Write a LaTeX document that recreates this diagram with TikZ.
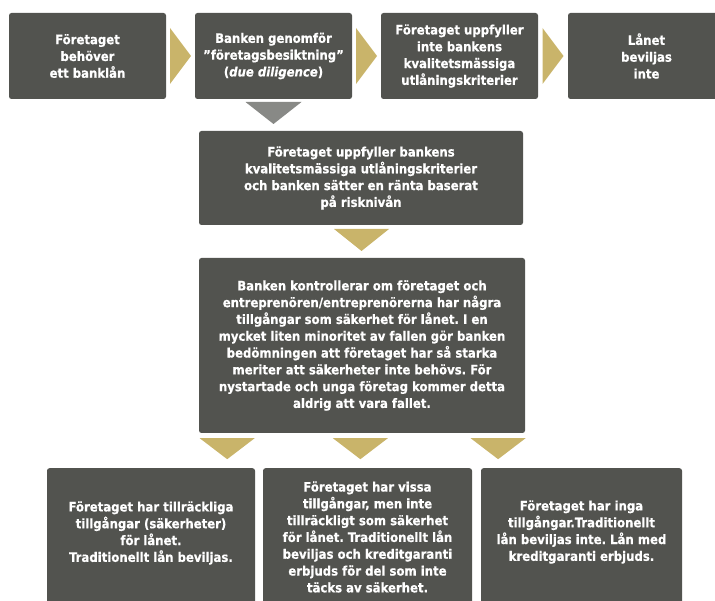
\documentclass[tikz,border=0pt]{standalone}
\usepackage{fontspec}
\setmainfont{DejaVu Sans Condensed}[BoldFeatures={FakeBold=0.6}, BoldItalicFeatures={FakeBold=0.6}]
\usetikzlibrary{calc}
\frenchspacing

\definecolor{rutgra}{RGB}{82,83,79}
\definecolor{guld}{RGB}{201,180,106}
\definecolor{pilgra}{RGB}{136,137,134}

\tikzset{
  ruta/.style={fill=rutgra, rounded corners=2.5pt, inner sep=0pt},
  rutext/.style={text=white, align=center, inner sep=0pt,
    font=\bfseries\fontsize{13}{16.8}\selectfont},
  steg/.style={ruta, rutext, minimum width=157pt, minimum height=86pt},
}

\begin{document}
\begin{tikzpicture}[x=1pt,y=-1pt]
  \useasboundingbox (0,0) rectangle (715,601);

  % Översta raden
  \node[steg] (behov) at (87.5,56) {Företaget\\behöver\\ett banklån};
  \node[steg] (besikt) at (273.5,56) {Banken genomför\\”företagsbesiktning”\\(\textit{due diligence})};
  \node[steg] (ejkrav) at (459.5,56) {Företaget uppfyller\\inte bankens\\kvalitetsmässiga\\utlåningskriterier};
  \node[steg] (avslag) at (646.5,56) {Lånet\\beviljas\\inte};

  % Mittenrutorna
  \node[ruta, rutext, minimum width=324pt, minimum height=94pt] (krav) at (361,178)
    {Företaget uppfyller bankens\\kvalitetsmässiga utlåningskriterier\\och banken sätter en ränta baserat\\på risknivån};
  \node[ruta, rutext, minimum width=326pt, minimum height=175pt] (sakerhet) at (362,345.5)
    {Banken kontrollerar om företaget och\\entreprenören/entreprenörerna har några\\tillgångar som säkerhet för lånet. I en\\mycket liten minoritet av fallen gör banken\\bedömningen att företaget har så starka\\meriter att säkerheter inte behövs. För\\nystartade och unga företag kommer detta\\aldrig att vara fallet.};

  % Nedersta raden, rutorna går ut under kanten
  \node[ruta, anchor=north, minimum width=208pt, minimum height=150pt] (fullt) at (151,468) {};
  \node[ruta, anchor=north, minimum width=209pt, minimum height=150pt] (delvis) at (367.5,468) {};
  \node[ruta, anchor=north, minimum width=201pt, minimum height=150pt] (inga) at (581.5,468) {};
  \node[rutext] (fullttext) at (fullt.north |- 0,533)
    {Företaget har tillräckliga\\tillgångar (säkerheter)\\för lånet.\\Traditionellt lån beviljas.};
  \node[rutext] (delvistext) at (delvis.north |- 0,537)
    {Företaget har vissa\\tillgångar, men inte\\tillräckligt som säkerhet\\för lånet. Traditionellt lån\\beviljas och kreditgaranti\\erbjuds för del som inte\\täcks av säkerhet.};
  \node[rutext] (ingatext) at (inga.north |- 0,532)
    {Företaget har inga\\tillgångar.Traditionellt\\lån beviljas inte. Lån med\\kreditgaranti erbjuds.};

  % Pilar åt höger mellan rutorna i översta raden
  \foreach \a/\b in {behov/besikt, besikt/ejkrav, ejkrav/avslag} {
    \coordinate (m) at ($(\a.east)!.5!(\b.west)$);
    \fill[guld] ([shift={(-10.5,-28)}]m) -- ([shift={(10.5,0)}]m)
      -- ([shift={(-10.5,28)}]m) -- cycle;
  }

  % Grå pil ner från besiktningen
  \coordinate (m) at ($(besikt.south)!.5!(besikt.south |- krav.north)$);
  \fill[pilgra] ([shift={(-28,-13)}]m) -- ([shift={(0,9)}]m)
    -- ([shift={(28,-13)}]m) -- cycle;

  % Pil ner till säkerhetsrutan
  \coordinate (m) at ($(krav.south)!.5!(sakerhet.north)$);
  \fill[guld] ([shift={(-27.5,-12.5)}]m) -- ([shift={(0,9.5)}]m)
    -- ([shift={(27.5,-12.5)}]m) -- cycle;

  % Tre pilar ner till utfallen
  \foreach \f in {0.087,0.495,0.917} {
    \coordinate (m) at ($(sakerhet.south west)!\f!(sakerhet.south east)$);
    \fill[guld] ([shift={(-27.5,5)}]m) -- ([shift={(0,26)}]m)
      -- ([shift={(27.5,5)}]m) -- cycle;
  }
\end{tikzpicture}
\end{document}
